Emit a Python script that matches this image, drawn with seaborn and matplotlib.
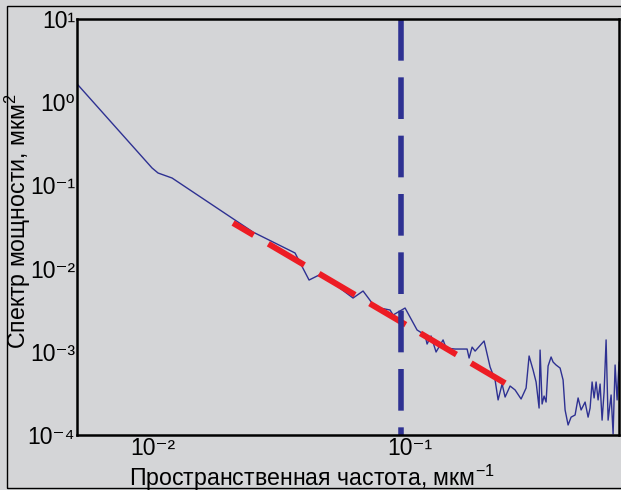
import matplotlib
matplotlib.use('Agg')
import matplotlib.pyplot as plt
from matplotlib.patches import Rectangle
from matplotlib.ticker import NullFormatter, FuncFormatter
import seaborn as sns
import pandas as pd
import numpy as np

# Spatial frequency (1/um) and power spectrum (um^2)
freq = [0.005062, 0.009911, 0.010458, 0.011858, 0.02449, 0.03568, 0.04046, 0.04506,
        0.0600, 0.06564, 0.07309, 0.0836, 0.08588, 0.09562, 0.10647, 0.11438,
        0.11645, 0.12069, 0.12622, 0.13441, 0.13807, 0.14966, 0.16668, 0.16969,
        0.17431, 0.17906, 0.19409, 0.2048, 0.21419, 0.22003, 0.22806, 0.23427,
        0.24499, 0.25622, 0.27035, 0.28274, 0.29045, 0.30103, 0.30923, 0.31765,
        0.32051, 0.32631, 0.3322, 0.33821, 0.34432, 0.35371, 0.3601, 0.36992,
        0.38341, 0.39386, 0.40098, 0.41191, 0.42314, 0.43857, 0.45052, 0.46281,
        0.47117, 0.47969, 0.49277, 0.50168, 0.51074, 0.51997, 0.52938, 0.53894,
        0.54868, 0.5586, 0.5687, 0.57898, 0.58945, 0.60551, 0.61645, 0.6276,
        0.63894, 0.65049]
power = [1.66, 0.162, 0.141, 0.1227, 0.0275, 0.01541, 0.00729, 0.00861,
         0.00443, 0.00538, 0.00345, 0.00318, 0.00277, 0.00336, 0.00183, 0.00159,
         0.00124, 0.00155, 0.000995, 0.00139, 0.00111, 0.00108, 0.00108, 0.000842,
         0.00114, 0.00102, 0.00135, 0.000657, 0.000458, 0.000264, 0.000410, 0.000286,
         0.000388, 0.000348, 0.000271, 0.000367, 0.000891, 0.000604, 0.000434, 0.000211,
         0.00105, 0.000236, 0.000294, 0.000249, 0.000675, 0.000867, 0.000754, 0.000694,
         0.000638, 0.000458, 0.000200, 0.000132, 0.000164, 0.000174, 0.000279, 0.000200,
         0.000223, 0.000249, 0.000164, 0.000211, 0.000434, 0.000279, 0.000434, 0.000264,
         0.000410, 0.000151, 0.000329, 0.00139, 0.000151, 0.000303, 0.000103, 0.000694,
         0.000264, 0.000754]

# power-law fit (red dashed)
fit_freq = [0.02048, 0.23427]
fit_power = [0.0353, 0.00042]

# cutoff frequency (vertical dashed)
cutoff_freq = 0.0923

x_ticks = [1e-2, 1e-1]
y_ticks = [1e-4, 1e-3, 1e-2, 1e-1, 1e0, 1e1]
x_limits = (0.00506, 0.650)
y_limits = (1e-4, 1e1)

x_label = 'Пространственная частота, мкм$^{-1}$'
y_label = 'Спектр мощности, мкм$^{2}$'

BG = '#d4d5d7'
NAVY = '#2e3192'
RED = '#ed1c24'

SUPERSCRIPT = str.maketrans('-0123456789', '⁻⁰¹²³⁴⁵⁶⁷⁸⁹')


def power_label(value, pos):
    exponent = int(round(np.log10(value)))
    return '10' + str(exponent).translate(SUPERSCRIPT)


def main():
    sns.set_theme(style='white')
    plt.rcParams['font.family'] = ['Liberation Sans', 'DejaVu Sans']
    plt.rcParams['mathtext.default'] = 'regular'

    fig = plt.figure(figsize=(6.21, 4.90), dpi=100, facecolor=BG)
    ax = fig.add_axes([0.124, 0.1122, 0.8728, 0.849])
    ax.set_facecolor(BG)

    # outer frame of the picture (right side falls off the canvas)
    fig.patches.append(Rectangle((0.0113, 0.004), 1.0, 0.9837, transform=fig.transFigure,
                                 fill=False, edgecolor='black', linewidth=1.0))

    spectrum = pd.DataFrame({'freq': freq, 'power': power})
    sns.lineplot(data=spectrum, x='freq', y='power', ax=ax, color=NAVY,
                 linewidth=1.0, sort=False, estimator=None)

    ax.plot(fit_freq, fit_power, color=RED, linewidth=4.3,
            linestyle=(3.0, (7.0, 2.85)))

    ax.plot([cutoff_freq, cutoff_freq], [y_limits[1], y_limits[0]], color=NAVY,
            linewidth=4.0, linestyle=(0, (7.5, 3.0)))

    ax.set_xscale('log')
    ax.set_yscale('log')
    ax.set_xlim(x_limits)
    ax.set_ylim(y_limits)
    ax.set_xticks(x_ticks)
    ax.set_yticks(y_ticks)
    ax.xaxis.set_major_formatter(FuncFormatter(power_label))
    ax.yaxis.set_major_formatter(FuncFormatter(power_label))
    ax.xaxis.set_minor_formatter(NullFormatter())
    ax.yaxis.set_minor_formatter(NullFormatter())
    ax.tick_params(which='both', length=0, labelsize=16.5, colors='black')
    ax.tick_params(axis='y', pad=1.5)
    ax.tick_params(axis='x', pad=1.5)

    for spine in ax.spines.values():
        spine.set_color('black')
        spine.set_linewidth(1.8)

    ax.set_xlabel(x_label, fontsize=16.7, color='black')
    ax.set_ylabel(y_label, fontsize=16.7, color='black')
    ax.xaxis.set_label_coords(0.434, -0.066)
    ax.yaxis.set_label_coords(-0.082, 0.514)

    fig.savefig('out.png', dpi=100, facecolor=BG)
    plt.close(fig)


if __name__ == '__main__':
    main()
